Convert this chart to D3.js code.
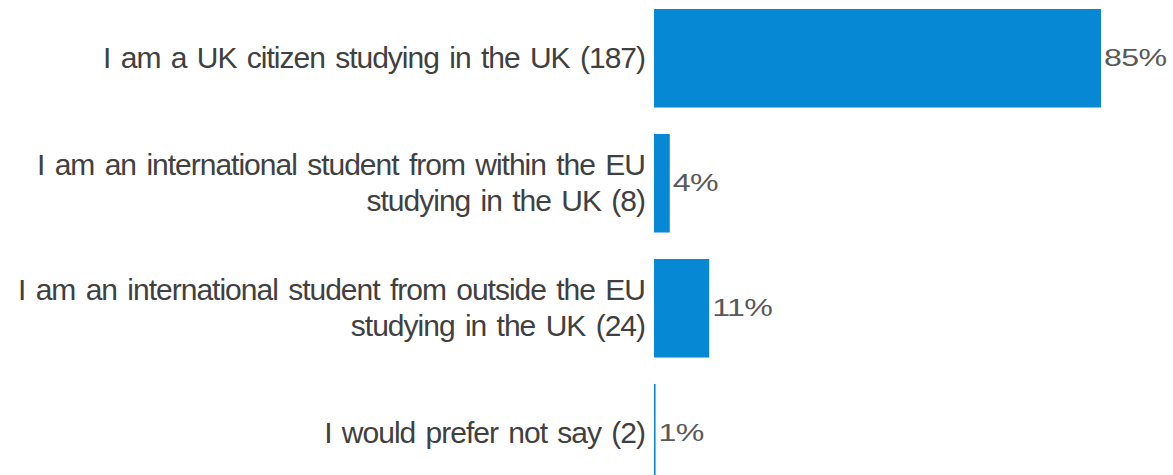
<!DOCTYPE html>
<html>
<head>
<meta charset="utf-8">
<script src="https://cdn.jsdelivr.net/npm/d3@7"></script>
<style>
  html, body { margin: 0; padding: 0; background: #fff; overflow: hidden; }
  svg { display: block; font-family: "Liberation Sans", Arial, sans-serif; }
</style>
</head>
<body>
<svg id="chart"></svg>
<script>
// categories, split into label lines
const categories = [
  ["I am a UK citizen studying in the UK (187)"],
  ["I am an international student from within the EU", "studying in the UK (8)"],
  ["I am an international student from outside the EU", "studying in the UK (24)"],
  ["I would prefer not say (2)"]
];
// bar lengths (percent)
const values = [85, 3.0, 10.5, 0.3];
// value labels as printed
const valueLabels = ["85%", "4%", "11%", "1%"];

const config = {
  width: 1173,
  height: 475,
  axisX: 654,
  barColor: "#0788d4",
  labelColor: "#404040",
  valueColor: "#595959"
};

const svg = d3.select("#chart")
  .attr("width", config.width)
  .attr("height", config.height);

const idx = d3.range(categories.length);

const xScale = d3.scaleLinear()
  .domain([0, 85])
  .range([config.axisX, 1101]);

// the chart runs past the bottom edge of the picture, like the reference
const yScale = d3.scaleBand()
  .domain(idx)
  .range([-17.5, 509])
  .paddingInner(0.212)
  .paddingOuter(0.212);

// bars
svg.selectAll("rect.bar")
  .data(idx)
  .join("rect")
  .attr("class", "bar")
  .attr("x", xScale(0))
  .attr("y", i => yScale(i))
  .attr("width", i => Math.max(1.5, xScale(values[i]) - xScale(0)))
  .attr("height", yScale.bandwidth())
  .attr("fill", config.barColor);

// category labels
const lineH = 36;
const labels = svg.selectAll("text.cat")
  .data(idx)
  .join("text")
  .attr("class", "cat")
  .attr("text-anchor", "end")
  .attr("fill", config.labelColor)
  .style("font-size", "30px")
  .style("letter-spacing", "-1px")
  .style("word-spacing", "3px");

labels.each(function(i) {
  const lines = categories[i];
  const cy = yScale(i) + yScale.bandwidth() / 2;
  const first = cy - (lines.length - 1) * lineH / 2 + 10;
  d3.select(this).selectAll("tspan")
    .data(lines)
    .join("tspan")
    .attr("x", config.axisX - 9)
    .attr("y", (d, k) => first + k * lineH)
    .text(d => d);
});

// value labels (wide glyphs)
svg.selectAll("text.val")
  .data(idx)
  .join("text")
  .attr("class", "val")
  .attr("transform", i => {
    const x = Math.max(xScale(values[i]), xScale(0) + 1.5) + 3;
    const y = yScale(i) + yScale.bandwidth() / 2 + 8;
    return `translate(${x},${y}) scale(1.34,1)`;
  })
  .attr("fill", config.valueColor)
  .style("font-size", "24px")
  .style("letter-spacing", "-0.5px")
  .text(i => valueLabels[i]);
</script>
</body>
</html>
